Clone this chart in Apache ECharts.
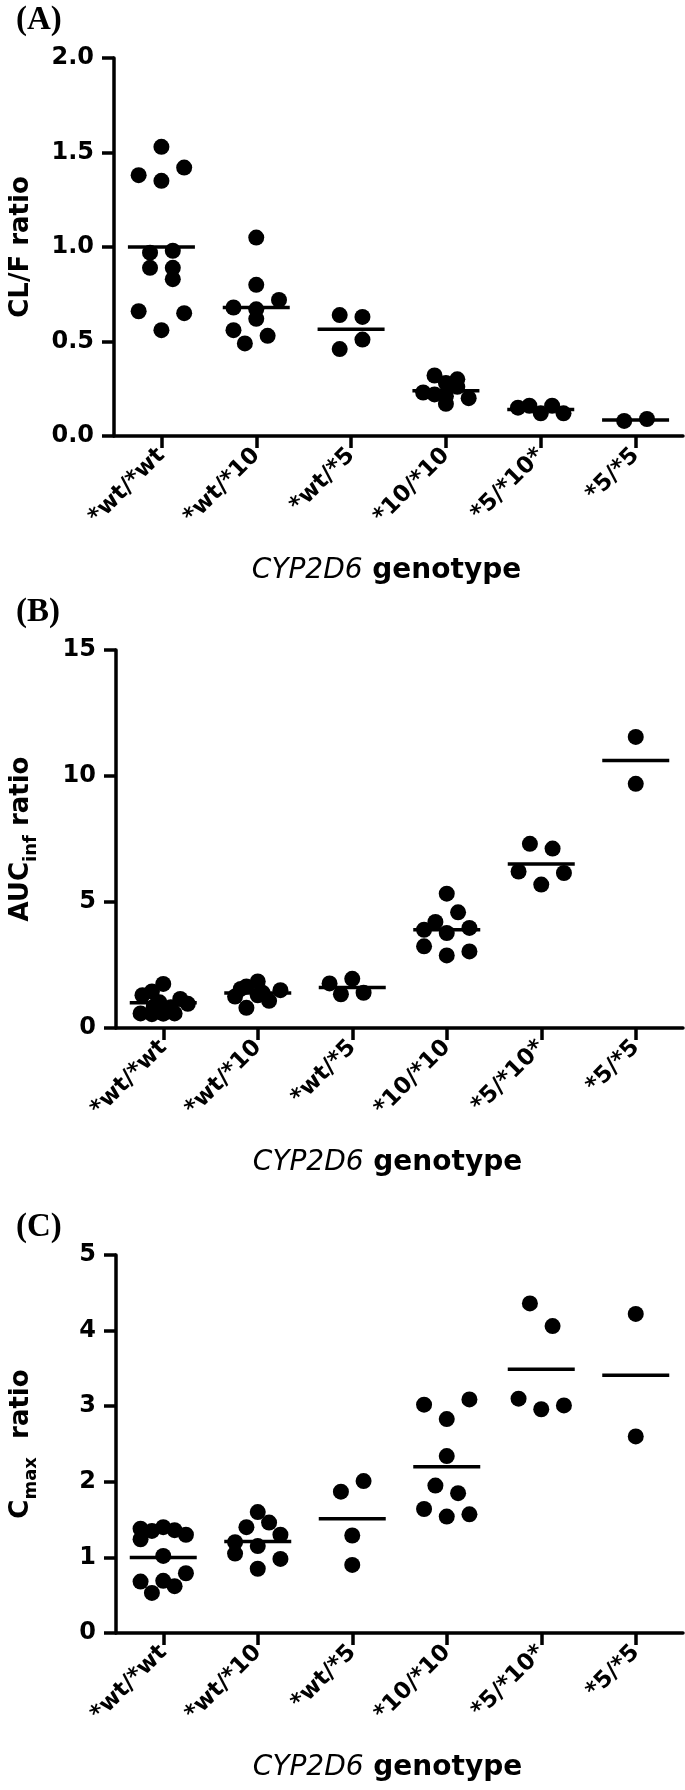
<!DOCTYPE html>
<html><head><meta charset="utf-8">
<script src="https://cdn.jsdelivr.net/npm/echarts@6/dist/echarts.min.js"></script>
<style>html,body{margin:0;padding:0;background:#fff}#c{width:685px;height:1790px}</style>
</head><body><div id="c"></div>
<script>
// ---------- data ----------
const categories = ['*wt/*wt', '*wt/*10', '*wt/*5', '*10/*10', '*5/*10*', '*5/*5'];

// Panel A: CL/F ratio
const clfValues = [
  [1.53, 1.38, 1.35, 1.42, 0.97, 0.98, 0.89, 0.89, 0.83, 0.66, 0.65, 0.56],
  [1.05, 0.80, 0.72, 0.68, 0.67, 0.62, 0.56, 0.53, 0.49],
  [0.64, 0.63, 0.51, 0.46],
  [0.32, 0.30, 0.28, 0.26, 0.23, 0.22, 0.20, 0.21, 0.17],
  [0.15, 0.16, 0.12, 0.16, 0.12],
  [0.08, 0.09]
];
const clfJitter = [
  [0, -0.24, 0, 0.24, -0.12, 0.12, -0.12, 0.12, 0.12, -0.24, 0.24, 0],
  [0, 0, 0.24, -0.24, 0, 0, -0.24, 0.12, -0.12],
  [-0.12, 0.12, 0.12, -0.12],
  [-0.12, 0.12, 0, 0.12, -0.24, -0.12, 0.24, 0, 0],
  [-0.24, -0.12, 0, 0.12, 0.24],
  [-0.12, 0.12]
];
const clfMeans = [1.00, 0.68, 0.565, 0.24, 0.14, 0.084];
const clfTicks = ['0.0', '0.5', '1.0', '1.5', '2.0'];

// Panel B: AUCinf ratio
const aucValues = [
  [1.75, 1.45, 1.30, 1.15, 0.96, 0.58, 0.55, 0.57, 0.58, 1.02, 0.85, 0.82],
  [1.85, 1.65, 1.55, 1.50, 1.40, 1.25, 1.30, 1.08, 0.80],
  [1.77, 1.95, 1.34, 1.40],
  [5.33, 4.59, 4.21, 3.90, 3.77, 3.97, 3.24, 3.04, 2.88],
  [7.31, 7.12, 6.21, 6.15, 5.69],
  [11.55, 9.69]
];
const aucJitter = [
  [0, -0.12, -0.22, 0.18, 0.26, -0.24, -0.12, 0, 0.12, -0.04, -0.10, 0.08],
  [0, -0.12, -0.18, 0.24, 0.05, -0.24, 0, 0.12, -0.12],
  [-0.24, 0, -0.12, 0.12],
  [0, 0.12, -0.12, -0.24, 0, 0.24, -0.24, 0.24, 0],
  [-0.12, 0.12, -0.24, 0.24, 0],
  [0, 0]
];
const aucMeans = [1.00, 1.39, 1.61, 3.90, 6.51, 10.62];
const aucTicks = ['0', '5', '10', '15'];

// Panel C: Cmax ratio
const cmaxValues = [
  [1.38, 1.35, 1.40, 1.36, 1.30, 1.24, 1.02, 0.79, 0.68, 0.69, 0.62, 0.53],
  [1.60, 1.40, 1.46, 1.30, 1.20, 1.15, 1.05, 0.98, 0.85],
  [1.87, 2.01, 1.29, 0.90],
  [3.02, 3.09, 2.83, 2.34, 1.95, 1.85, 1.64, 1.54, 1.57],
  [4.36, 4.06, 3.10, 2.96, 3.01],
  [4.22, 2.60]
];
const cmaxJitter = [
  [-0.24, -0.12, 0, 0.12, 0.24, -0.24, 0, 0.24, -0.24, 0, 0.12, -0.12],
  [0, -0.12, 0.12, 0.24, -0.24, 0, -0.24, 0.24, 0],
  [-0.12, 0.12, 0, 0],
  [-0.24, 0.24, 0, 0, -0.12, 0.12, -0.24, 0, 0.24],
  [-0.12, 0.12, -0.24, 0, 0.24],
  [0, 0]
];
const cmaxMeans = [1.00, 1.21, 1.51, 2.20, 3.49, 3.41];
const cmaxTicks = ['0', '1', '2', '3', '4', '5'];

// ---------- chart ----------
const panels = [
  { letter: '(A)', values: clfValues, jitter: clfJitter, means: clfMeans, ticks: clfTicks,
    name: '{m|CL/F ratio}', top: 58, labelTop: 4 },
  { letter: '(B)', values: aucValues, jitter: aucJitter, means: aucMeans, ticks: aucTicks,
    name: '{m|AUC}{s|inf}{m| ratio}', top: 650, labelTop: 596 },
  { letter: '(C)', values: cmaxValues, jitter: cmaxJitter, means: cmaxMeans, ticks: cmaxTicks,
    name: '{m|C}{s|max}{m|  ratio}', top: 1255, labelTop: 1211 }
];
const FONT = '"DejaVu Sans", "Liberation Sans", sans-serif';
const PLOT_H = 378;

const grid = [], xAxis = [], yAxis = [], series = [], graphic = [];
panels.forEach((p, k) => {
  grid.push({ left: 114, right: 2, top: p.top, height: PLOT_H, containLabel: false });
  const lineStyle = { color: '#000', width: 3.5 };
  xAxis.push({
    type: 'category', gridIndex: k, data: categories, boundaryGap: true,
    axisLine: { show: true, onZero: false, lineStyle },
    axisTick: { show: true, alignWithLabel: true, length: 12, lineStyle },
    axisLabel: { interval: 0, rotate: 45, margin: 16, color: '#000',
      fontFamily: FONT, fontWeight: 'bold', fontSize: 23 },
    name: '{i|CYP2D6}{b| genotype}', nameLocation: 'middle', nameGap: 121,
    nameTextStyle: { padding: [0, 24, 0, 0], rich: {
      i: { fontFamily: FONT, fontStyle: 'italic', fontSize: 28, color: '#000' },
      b: { fontFamily: FONT, fontWeight: 'bold', fontSize: 28, color: '#000' } } },
    splitLine: { show: false }
  });
  xAxis.push({ type: 'value', gridIndex: k, min: -0.5, max: categories.length - 0.5, show: false });
  const tickNums = p.ticks.map(Number);
  yAxis.push({
    type: 'value', gridIndex: k,
    min: tickNums[0], max: tickNums[tickNums.length - 1], interval: tickNums[1] - tickNums[0],
    axisLine: { show: true, onZero: false, lineStyle },
    axisTick: { show: true, length: 12, lineStyle },
    splitLine: { show: false },
    axisLabel: { margin: 20, color: '#000', fontFamily: FONT, fontWeight: 'bold', fontSize: 24,
      formatter: v => p.ticks[tickNums.findIndex(t => Math.abs(t - v) < 1e-9)] },
    name: p.name, nameLocation: 'middle', nameGap: 76,
    nameTextStyle: { color: '#000',
      rich: {
        m: { fontFamily: FONT, fontWeight: 'bold', fontSize: 26, color: '#000', verticalAlign: 'top', lineHeight: 30 },
        s: { fontFamily: FONT, fontWeight: 'bold', fontSize: 18, color: '#000', verticalAlign: 'top', padding: [14, 0, 0, 0] }
      } }
  });
  const pts = [];
  p.values.forEach((arr, ci) => arr.forEach((v, j) => pts.push([ci + p.jitter[ci][j], v])));
  series.push({
    type: 'scatter', xAxisIndex: 2 * k + 1, yAxisIndex: k, data: pts,
    symbol: 'circle', symbolSize: 16, itemStyle: { color: '#000', opacity: 1 },
    silent: true, z: 2
  });
  series.push({
    type: 'scatter', xAxisIndex: 2 * k + 1, yAxisIndex: k,
    data: p.means.map((m, ci) => [ci, m]),
    symbol: 'rect', symbolSize: [67, 3.5], itemStyle: { color: '#000', opacity: 1 },
    silent: true, z: 3
  });
  graphic.push({
    type: 'text', left: 16, top: p.labelTop,
    style: { text: p.letter, font: 'bold 33px "Liberation Serif", "Times New Roman", serif', fill: '#000' }
  });
});

const chart = echarts.init(document.getElementById('c'), null, { renderer: 'canvas' });
chart.setOption({ animation: false, backgroundColor: '#fff', grid, xAxis, yAxis, series, graphic });
</script></body></html>
